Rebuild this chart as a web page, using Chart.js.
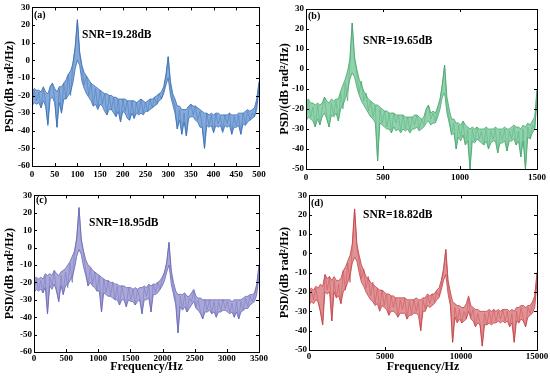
<!DOCTYPE html>
<html>
<head>
<meta charset="utf-8">
<script src="https://cdn.jsdelivr.net/npm/chart.js@4.4.1/dist/chart.umd.min.js"></script>
<style>
  html, body { margin: 0; padding: 0; background: #fff; }
  #wrap { position: relative; width: 550px; height: 377px; overflow: hidden; }
  canvas { position: absolute; }
</style>
</head>
<body>
<div id="wrap">
  <canvas id="cA" width="275" height="188" style="left:0;top:0"></canvas>
  <canvas id="cB" width="275" height="188" style="left:275px;top:0"></canvas>
  <canvas id="cC" width="275" height="189" style="left:0;top:188px"></canvas>
  <canvas id="cD" width="275" height="189" style="left:275px;top:188px"></canvas>
</div>
<script>
// frequency step of each panel (Hz) - 101 samples from 0 to the max
const stepA = 5, stepB = 15, stepC = 35, stepD = 150;

// PSD band (dB rad^2/Hz): upper and lower edge of the noisy trace
const hiA = [-18,-16,-17,-17,-18,-15,-18,-19,-15,-13,-16,-18,-15,-15,-13,-11,-8,-6,-2,7,
  23,5,-3,-7,-9,-11,-13,-14,-15,-16,-17,-18,-19,-19,-20,-20,-21,-21,-22,-22,
  -22,-22,-23,-23,-23,-23,-24,-23,-22,-23,-24,-23,-22,-22,-21,-20,-19,-18,-15,-8,
  2,-12,-19,-22,-26,-26,-28,-28,-28,-26,-25,-26,-26,-27,-28,-29,-30,-30,-31,-30,
  -31,-30,-30,-31,-31,-31,-31,-30,-31,-31,-31,-30,-30,-30,-29,-28,-29,-28,-27,-22,-12];
const loA = [-26,-24,-25,-24,-27,-23,-26,-37,-22,-21,-24,-38,-24,-30,-22,-22,-20,-18,-13,-5,
  0,-3,-12,-16,-19,-21,-23,-26,-25,-28,-25,-26,-29,-31,-28,-28,-30,-32,-29,-35,
  -29,-30,-33,-34,-30,-33,-30,-31,-30,-31,-29,-29,-28,-27,-26,-25,-23,-22,-19,-14,
  -10,-20,-25,-30,-39,-34,-42,-35,-43,-33,-32,-32,-34,-35,-38,-38,-50,-37,-38,-37,
  -41,-37,-38,-37,-41,-37,-38,-37,-42,-38,-38,-37,-42,-36,-37,-35,-34,-33,-32,-28,-16];
// the raw trace inside the band, sample by sample
const psdA = [-25,-17,-23,-18,-27,-16,-24,-36,-15,-13,-22,-38,-16,-30,-13,-22,-8,-20,-2,7,
  23,3,-4,-14,-9,-20,-13,-26,-16,-27,-17,-25,-19,-31,-20,-28,-21,-32,-22,-35,
  -22,-29,-23,-34,-23,-33,-24,-30,-22,-30,-24,-29,-22,-27,-21,-25,-19,-22,-17,-10,
  2,-14,-22,-26,-39,-28,-42,-30,-43,-28,-25,-31,-26,-34,-29,-38,-50,-30,-37,-31,
  -41,-30,-36,-32,-40,-31,-36,-30,-42,-32,-37,-31,-42,-30,-36,-29,-34,-30,-32,-24,-13];

const hiB = [-16,-15,-17,-17,-18,-17,-18,-17,-14,-16,-17,-15,-16,-15,-15,-11,-8,-5,-1,5,
  23,6,0,-5,-8,-11,-13,-15,-16,-17,-18,-18,-19,-20,-21,-21,-22,-22,-22,-23,
  -23,-23,-23,-24,-24,-24,-24,-23,-23,-24,-25,-24,-20,-18,-22,-21,-22,-19,-15,-8,
  2,-14,-20,-25,-25,-27,-27,-28,-26,-28,-29,-30,-29,-30,-29,-30,-30,-30,-29,-30,
  -30,-30,-29,-30,-30,-30,-29,-30,-30,-29,-28,-29,-29,-30,-28,-29,-27,-28,-26,-24,-10];
const loB = [-26,-24,-25,-26,-29,-25,-28,-24,-22,-25,-29,-23,-24,-22,-26,-20,-18,-15,-11,-5,
  -2,-4,-9,-13,-16,-18,-20,-22,-24,-25,-27,-46,-27,-28,-29,-30,-30,-32,-29,-31,
  -30,-32,-30,-31,-30,-32,-30,-30,-29,-31,-30,-29,-27,-26,-28,-27,-27,-24,-20,-14,
  -12,-22,-27,-33,-32,-40,-34,-36,-33,-38,-36,-50,-36,-37,-35,-36,-37,-38,-36,-40,
  -37,-36,-36,-42,-37,-37,-36,-41,-36,-36,-35,-38,-36,-44,-36,-50,-34,-35,-32,-30,-16];
const psdB = [-25,-16,-24,-19,-29,-18,-28,-20,-14,-24,-29,-17,-23,-16,-26,-12,-20,-7,-16,3,
  23,5,-2,-12,-6,-16,-12,-21,-16,-24,-18,-46,-20,-27,-21,-29,-22,-32,-22,-27,
  -23,-31,-23,-30,-24,-31,-24,-28,-23,-30,-25,-28,-21,-18,-25,-22,-26,-20,-16,-8,
  2,-18,-25,-32,-27,-40,-28,-34,-26,-38,-30,-50,-30,-36,-29,-35,-31,-38,-30,-40,
  -31,-35,-30,-42,-31,-36,-30,-41,-31,-35,-29,-38,-31,-44,-30,-50,-29,-35,-28,-30,-11];

const hiC = [-18,-17,-18,-17,-18,-15,-16,-15,-16,-13,-15,-16,-14,-13,-12,-10,-8,-5,-2,6,
  23,5,-2,-7,-10,-11,-13,-14,-15,-16,-17,-18,-19,-19,-20,-20,-21,-21,-22,-22,
  -22,-23,-23,-23,-24,-23,-24,-23,-23,-22,-23,-21,-22,-21,-21,-20,-19,-17,-14,-8,
  3,-13,-20,-25,-27,-27,-27,-26,-28,-28,-26,-24,-28,-29,-29,-30,-30,-30,-30,-30,
  -30,-30,-30,-30,-30,-30,-30,-30,-31,-30,-30,-30,-30,-29,-28,-28,-27,-27,-26,-21,-10];
const loC = [-26,-24,-25,-24,-26,-23,-38,-22,-24,-21,-25,-31,-22,-27,-22,-21,-19,-17,-12,-5,
  -1,-4,-11,-16,-22,-20,-22,-23,-25,-25,-37,-26,-27,-28,-28,-29,-30,-30,-33,-30,
  -30,-34,-30,-31,-31,-33,-31,-30,-38,-30,-30,-29,-37,-27,-27,-26,-24,-22,-19,-14,
  -10,-21,-27,-33,-49,-34,-36,-34,-37,-35,-33,-31,-35,-36,-38,-41,-37,-37,-36,-38,
  -37,-40,-37,-37,-36,-36,-37,-38,-37,-40,-37,-41,-37,-36,-35,-35,-33,-32,-31,-27,-16];
const psdC = [-25,-18,-24,-19,-26,-16,-38,-17,-22,-14,-24,-31,-16,-27,-14,-23,-9,-20,-3,5,
  23,4,-3,-13,-22,-12,-21,-14,-25,-16,-37,-18,-26,-19,-28,-20,-30,-22,-33,-22,
  -28,-34,-23,-30,-24,-33,-24,-29,-38,-23,-28,-22,-37,-21,-26,-20,-24,-18,-15,-9,
  3,-15,-23,-30,-49,-28,-35,-27,-37,-29,-31,-25,-34,-30,-37,-41,-30,-36,-30,-38,
  -31,-40,-31,-36,-30,-35,-31,-37,-32,-40,-31,-41,-31,-36,-29,-34,-28,-31,-27,-22,-10];

const hiD = [-19,-18,-19,-17,-18,-16,-17,-11,-13,-12,-14,-12,-14,-14,-13,-9,-7,-4,-1,5,
  23,5,-1,-6,-9,-12,-13,-15,-16,-17,-18,-19,-19,-20,-21,-21,-22,-22,-23,-23,
  -23,-23,-23,-24,-24,-24,-24,-23,-24,-24,-23,-23,-21,-22,-21,-21,-19,-18,-14,-8,
  2,-14,-20,-25,-26,-27,-27,-28,-28,-26,-22,-27,-28,-29,-29,-30,-30,-30,-30,-29,
  -30,-29,-30,-29,-30,-29,-29,-29,-30,-29,-30,-28,-28,-27,-27,-28,-27,-27,-25,-22,-10];
const loD = [-27,-25,-26,-24,-25,-30,-37,-20,-21,-20,-35,-20,-23,-22,-26,-20,-18,-15,-11,-5,
  -2,-4,-10,-15,-17,-20,-22,-24,-25,-27,-26,-30,-27,-28,-29,-32,-30,-30,-31,-33,
  -31,-31,-31,-34,-32,-32,-31,-31,-32,-40,-30,-30,-27,-28,-27,-26,-24,-23,-19,-14,
  -11,-21,-27,-46,-33,-36,-34,-36,-35,-34,-30,-34,-35,-38,-36,-37,-48,-37,-37,-36,
  -37,-36,-36,-35,-36,-35,-36,-35,-38,-36,-46,-35,-36,-34,-35,-38,-33,-32,-31,-28,-15];
const psdD = [-27,-19,-24,-18,-25,-30,-37,-11,-19,-12,-35,-14,-23,-16,-26,-9,-19,-5,-15,4,
  23,3,-4,-13,-8,-18,-12,-22,-15,-26,-18,-29,-19,-27,-21,-32,-22,-28,-23,-33,
  -24,-29,-23,-34,-25,-31,-24,-30,-25,-40,-24,-29,-22,-26,-21,-25,-20,-22,-16,-9,
  2,-16,-24,-46,-28,-35,-29,-36,-30,-34,-23,-33,-29,-38,-31,-36,-48,-31,-37,-30,
  -36,-29,-35,-30,-34,-29,-35,-30,-38,-31,-46,-30,-36,-28,-34,-38,-28,-31,-27,-24,-10];

const snrLabels = ['SNR=19.28dB', 'SNR=19.65dB', 'SNR=18.95dB', 'SNR=18.82dB'];
const panelLabels = ['(a)', '(b)', '(c)', '(d)'];
const xMax = [500, 1500, 3500, 15000];
const xStep = [50, 500, 500, 5000];
const yMin = [-60, -50, -60, -50];
const colors = ['rgb(58,110,180)', 'rgb(70,166,110)', 'rgb(106,104,180)', 'rgb(194,66,72)'];
const fills = ['rgba(92,140,204,0.75)', 'rgba(108,194,144,0.75)', 'rgba(140,139,204,0.75)', 'rgba(214,110,114,0.75)'];

const FONT = "'Liberation Serif', 'Times New Roman', serif";

const decor = {
  id: 'decor',
  afterDraw(chart, args, o) {
    const ctx = chart.ctx;
    const a = chart.chartArea;
    const xs = chart.scales.x, ys = chart.scales.y;
    ctx.save();
    ctx.strokeStyle = '#000';
    ctx.lineWidth = 1;
    ctx.strokeRect(Math.round(a.left) + 0.5, Math.round(a.top) + 0.5,
      Math.round(a.right - a.left), Math.round(a.bottom - a.top));
    ctx.beginPath();
    xs.ticks.forEach(t => {
      const px = Math.round(xs.getPixelForValue(t.value)) + 0.5;
      ctx.moveTo(px, a.bottom); ctx.lineTo(px, a.bottom - 3);
      ctx.moveTo(px, a.top); ctx.lineTo(px, a.top + 3);
    });
    ys.ticks.forEach(t => {
      const py = Math.round(ys.getPixelForValue(t.value)) + 0.5;
      ctx.moveTo(a.left, py); ctx.lineTo(a.left + 3, py);
      ctx.moveTo(a.right, py); ctx.lineTo(a.right - 3, py);
    });
    ctx.stroke();
    ctx.fillStyle = '#000';
    ctx.textBaseline = 'middle';
    ctx.textAlign = 'left';
    ctx.font = 'bold 10px ' + FONT;
    ctx.fillText(o.label, o.labelPos[0], o.labelPos[1]);
    ctx.font = 'bold 11.5px ' + FONT;
    ctx.fillText(o.snr, o.snrPos[0], o.snrPos[1]);
    ctx.restore();
  }
};

const layouts = [
  { id: 'cA', pad: { left: 0, top: 7, right: 16, bottom: 0 }, yW: 32, xH: 22, xTitle: false, tp: 3, labelPos: [34, 15], snrPos: [82, 35] },
  { id: 'cB', pad: { left: 0, top: 9, right: 13, bottom: 0 }, yW: 31, xH: 19, xTitle: false, tp: 3, labelPos: [33, 16], snrPos: [88, 41] },
  { id: 'cC', pad: { left: 0, top: 5, right: 16, bottom: 0 }, yW: 34, xH: 25, xTitle: true, tp: 1, labelPos: [36, 12], snrPos: [89, 35] },
  { id: 'cD', pad: { left: 0, top: 3, right: 13, bottom: 0 }, yW: 34, xH: 27, xTitle: true, tp: 1, labelPos: [36, 15], snrPos: [88, 27] }
];

const highs = [hiA, hiB, hiC, hiD];
const lows = [loA, loB, loC, loD];
const traces = [psdA, psdB, psdC, psdD];
const steps = [stepA, stepB, stepC, stepD];

layouts.forEach((L, k) => {
  const toPts = arr => arr.map((v, i) => ({ x: i * steps[k], y: v }));
  new Chart(document.getElementById(L.id), {
    type: 'line',
    data: {
      datasets: [{
        data: toPts(highs[k]),
        borderColor: colors[k],
        borderWidth: 0.8,
        pointRadius: 0,
        tension: 0,
        fill: false
      }, {
        data: toPts(lows[k]),
        borderColor: colors[k],
        backgroundColor: fills[k],
        borderWidth: 0.8,
        pointRadius: 0,
        tension: 0,
        fill: '-1'
      }, {
        data: toPts(traces[k]),
        borderColor: colors[k],
        borderWidth: 0.7,
        pointRadius: 0,
        tension: 0,
        fill: false
      }]
    },
    options: {
      responsive: false,
      animation: false,
      devicePixelRatio: 1,
      layout: { padding: L.pad },
      plugins: {
        legend: { display: false },
        tooltip: { enabled: false },
        decor: { label: panelLabels[k], snr: snrLabels[k], labelPos: L.labelPos, snrPos: L.snrPos }
      },
      scales: {
        x: {
          type: 'linear',
          min: 0, max: xMax[k],
          grid: { display: false, drawTicks: false },
          border: { display: false },
          ticks: { stepSize: xStep[k], color: '#000', padding: L.tp, maxRotation: 0,
            callback: v => String(v),
            font: { family: FONT, size: 9, weight: 'bold' } },
          title: { display: L.xTitle, text: 'Frequency/Hz', color: '#000',
            padding: { top: 0, bottom: 3 },
            font: { family: FONT, size: 12, weight: 'bold' } },
          afterFit(s) { s.height = L.xH; }
        },
        y: {
          min: yMin[k], max: 30,
          grid: { display: false, drawTicks: false },
          border: { display: false },
          ticks: { stepSize: 10, color: '#000', padding: 2,
            callback: v => String(v),
            font: { family: FONT, size: 9, weight: 'bold' } },
          title: { display: true, text: 'PSD/(dB rad²/Hz)', color: '#000',
            padding: { top: 3, bottom: 0 },
            font: { family: FONT, size: 12, weight: 'bold' } },
          afterFit(s) { s.width = L.yW; }
        }
      }
    },
    plugins: [decor]
  });
});
</script>
</body>
</html>
